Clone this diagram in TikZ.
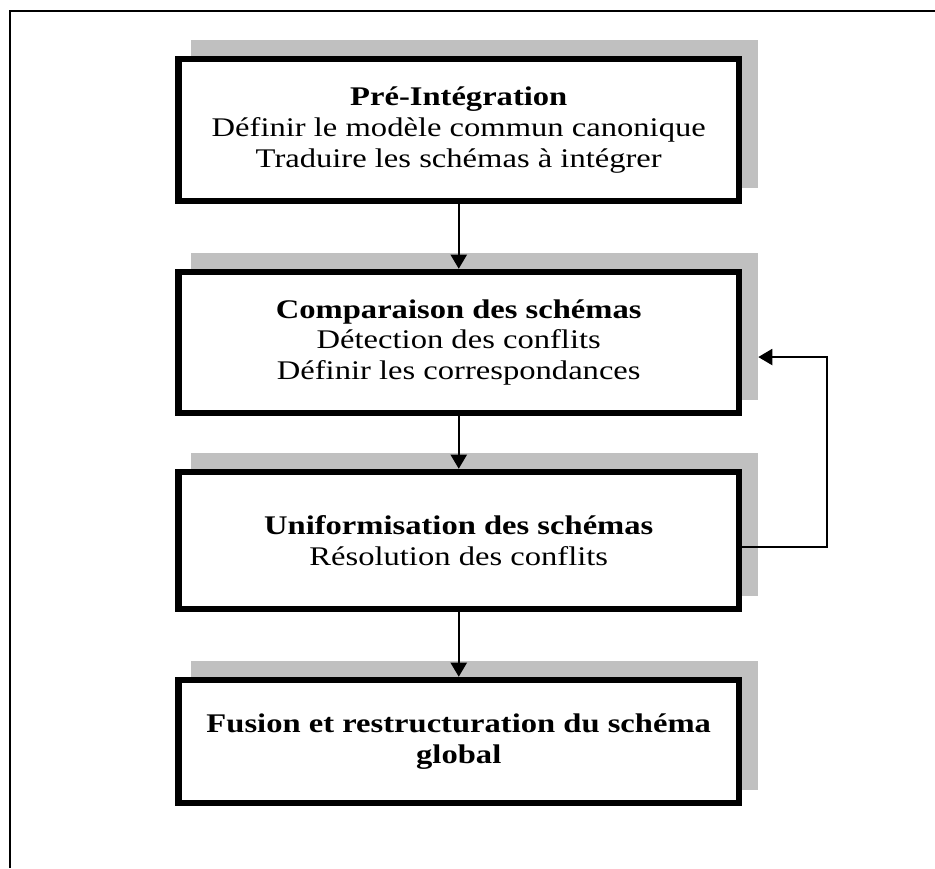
\documentclass[tikz,border=0pt]{standalone}
\usepackage{fontspec}
\setmainfont[FakeStretch=1.21]{Liberation Serif}
\usetikzlibrary{arrows.meta,shadows}
\definecolor{shadegray}{RGB}{192,192,192}

\tikzset{
  stage/.style={draw,line width=4.9pt,fill=white,minimum width=420.4pt,align=center,
    font=\fontsize{20.2}{23.2}\selectfont,
    general shadow={fill=shadegray,draw=shadegray,line width=4.9pt,shadow xshift=12pt,shadow yshift=12pt}},
  flow/.style={line width=1.5pt,-{Triangle[length=10.5pt,width=12pt]}}
}

\begin{document}
\begin{tikzpicture}[x=0.75pt,y=-0.75pt]
\useasboundingbox (0,0) rectangle (935,868);
\draw[line width=1.6pt] (10,868)--(10,11)--(935,11);
\node[stage,minimum height=106.5pt] (pre) at (458.75,130) {\textbf{Pré-Intégration}\\Définir le modèle commun canonique\\Traduire les schémas à intégrer};
\node[stage,minimum height=105.75pt] (comp) at (458.75,342.5) {\textbf{Comparaison des schémas}\\Détection des conflits\\Définir les correspondances};
\node[stage,minimum height=102.75pt] (unif) at (458.75,540.5) {\textbf{Uniformisation des schémas}\\Résolution des conflits};
\node[stage,minimum height=92.25pt] (fus) at (458.75,741.5) {\textbf{Fusion et restructuration du schéma}\\\textbf{global}};
\coordinate (turn) at (827,547);
\draw[flow] (pre)--(comp);
\draw[flow] (comp)--(unif);
\draw[flow] (unif)--(fus);
\draw[flow] (unif.east |- turn)--(turn) |- ([xshift=12pt,yshift=-10.9pt]comp.east);
\end{tikzpicture}
\end{document}
